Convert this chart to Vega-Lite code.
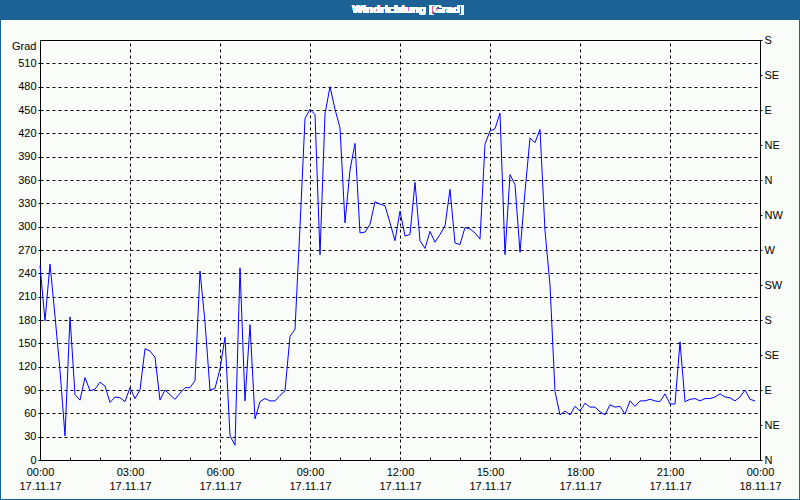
{
  "$schema": "https://vega.github.io/schema/vega-lite/v6.json",
  "autosize": {"type": "none"},
  "padding": {"left": 40, "top": 40, "right": 40, "bottom": 40},
  "width": 720,
  "height": 420,
  "config": {
    "background": "#F9FCF9",
    "view": {"stroke": "black", "strokeWidth": 1},
    "font": "Liberation Sans"
  },
  "data": {"values": [
    {"t": "2017-11-17T00:00", "v": 250}, {"t": "2017-11-17T00:10", "v": 179}, {"t": "2017-11-17T00:20", "v": 252}, {"t": "2017-11-17T00:30", "v": 185}, {"t": "2017-11-17T00:40", "v": 115}, {"t": "2017-11-17T00:50", "v": 31},
    {"t": "2017-11-17T01:00", "v": 184}, {"t": "2017-11-17T01:10", "v": 84}, {"t": "2017-11-17T01:20", "v": 77}, {"t": "2017-11-17T01:30", "v": 106}, {"t": "2017-11-17T01:40", "v": 89}, {"t": "2017-11-17T01:50", "v": 91},
    {"t": "2017-11-17T02:00", "v": 100}, {"t": "2017-11-17T02:10", "v": 95}, {"t": "2017-11-17T02:20", "v": 74}, {"t": "2017-11-17T02:30", "v": 81}, {"t": "2017-11-17T02:40", "v": 80}, {"t": "2017-11-17T02:50", "v": 75},
    {"t": "2017-11-17T03:00", "v": 93}, {"t": "2017-11-17T03:10", "v": 79}, {"t": "2017-11-17T03:20", "v": 90}, {"t": "2017-11-17T03:30", "v": 143}, {"t": "2017-11-17T03:40", "v": 140}, {"t": "2017-11-17T03:50", "v": 132},
    {"t": "2017-11-17T04:00", "v": 77}, {"t": "2017-11-17T04:10", "v": 90}, {"t": "2017-11-17T04:20", "v": 84}, {"t": "2017-11-17T04:30", "v": 78}, {"t": "2017-11-17T04:40", "v": 86}, {"t": "2017-11-17T04:50", "v": 93},
    {"t": "2017-11-17T05:00", "v": 93}, {"t": "2017-11-17T05:10", "v": 102}, {"t": "2017-11-17T05:20", "v": 243}, {"t": "2017-11-17T05:30", "v": 177}, {"t": "2017-11-17T05:40", "v": 90}, {"t": "2017-11-17T05:50", "v": 92},
    {"t": "2017-11-17T06:00", "v": 117}, {"t": "2017-11-17T06:10", "v": 158}, {"t": "2017-11-17T06:20", "v": 31}, {"t": "2017-11-17T06:30", "v": 19}, {"t": "2017-11-17T06:40", "v": 247}, {"t": "2017-11-17T06:50", "v": 76},
    {"t": "2017-11-17T07:00", "v": 174}, {"t": "2017-11-17T07:10", "v": 53}, {"t": "2017-11-17T07:20", "v": 75}, {"t": "2017-11-17T07:30", "v": 79}, {"t": "2017-11-17T07:40", "v": 76}, {"t": "2017-11-17T07:50", "v": 76},
    {"t": "2017-11-17T08:00", "v": 83}, {"t": "2017-11-17T08:10", "v": 89}, {"t": "2017-11-17T08:20", "v": 159}, {"t": "2017-11-17T08:30", "v": 168}, {"t": "2017-11-17T08:40", "v": 300}, {"t": "2017-11-17T08:50", "v": 439},
    {"t": "2017-11-17T09:00", "v": 451}, {"t": "2017-11-17T09:10", "v": 444}, {"t": "2017-11-17T09:20", "v": 264}, {"t": "2017-11-17T09:30", "v": 445}, {"t": "2017-11-17T09:40", "v": 480}, {"t": "2017-11-17T09:50", "v": 451},
    {"t": "2017-11-17T10:00", "v": 427}, {"t": "2017-11-17T10:10", "v": 305}, {"t": "2017-11-17T10:20", "v": 373}, {"t": "2017-11-17T10:30", "v": 407}, {"t": "2017-11-17T10:40", "v": 292}, {"t": "2017-11-17T10:50", "v": 293},
    {"t": "2017-11-17T11:00", "v": 303}, {"t": "2017-11-17T11:10", "v": 332}, {"t": "2017-11-17T11:20", "v": 329}, {"t": "2017-11-17T11:30", "v": 327}, {"t": "2017-11-17T11:40", "v": 305}, {"t": "2017-11-17T11:50", "v": 282},
    {"t": "2017-11-17T12:00", "v": 320}, {"t": "2017-11-17T12:10", "v": 288}, {"t": "2017-11-17T12:20", "v": 290}, {"t": "2017-11-17T12:30", "v": 357}, {"t": "2017-11-17T12:40", "v": 282}, {"t": "2017-11-17T12:50", "v": 272},
    {"t": "2017-11-17T13:00", "v": 294}, {"t": "2017-11-17T13:10", "v": 280}, {"t": "2017-11-17T13:20", "v": 290}, {"t": "2017-11-17T13:30", "v": 301}, {"t": "2017-11-17T13:40", "v": 348}, {"t": "2017-11-17T13:50", "v": 279},
    {"t": "2017-11-17T14:00", "v": 277}, {"t": "2017-11-17T14:10", "v": 299}, {"t": "2017-11-17T14:20", "v": 297}, {"t": "2017-11-17T14:30", "v": 292}, {"t": "2017-11-17T14:40", "v": 284}, {"t": "2017-11-17T14:50", "v": 406},
    {"t": "2017-11-17T15:00", "v": 423}, {"t": "2017-11-17T15:10", "v": 426}, {"t": "2017-11-17T15:20", "v": 446}, {"t": "2017-11-17T15:30", "v": 264}, {"t": "2017-11-17T15:40", "v": 367}, {"t": "2017-11-17T15:50", "v": 354},
    {"t": "2017-11-17T16:00", "v": 267}, {"t": "2017-11-17T16:10", "v": 345}, {"t": "2017-11-17T16:20", "v": 414}, {"t": "2017-11-17T16:30", "v": 408}, {"t": "2017-11-17T16:40", "v": 425}, {"t": "2017-11-17T16:50", "v": 295},
    {"t": "2017-11-17T17:00", "v": 225}, {"t": "2017-11-17T17:10", "v": 88}, {"t": "2017-11-17T17:20", "v": 58}, {"t": "2017-11-17T17:30", "v": 63}, {"t": "2017-11-17T17:40", "v": 58}, {"t": "2017-11-17T17:50", "v": 69},
    {"t": "2017-11-17T18:00", "v": 63}, {"t": "2017-11-17T18:10", "v": 73}, {"t": "2017-11-17T18:20", "v": 68}, {"t": "2017-11-17T18:30", "v": 68}, {"t": "2017-11-17T18:40", "v": 62}, {"t": "2017-11-17T18:50", "v": 58},
    {"t": "2017-11-17T19:00", "v": 71}, {"t": "2017-11-17T19:10", "v": 68}, {"t": "2017-11-17T19:20", "v": 69}, {"t": "2017-11-17T19:30", "v": 59}, {"t": "2017-11-17T19:40", "v": 76}, {"t": "2017-11-17T19:50", "v": 69},
    {"t": "2017-11-17T20:00", "v": 76}, {"t": "2017-11-17T20:10", "v": 76}, {"t": "2017-11-17T20:20", "v": 78}, {"t": "2017-11-17T20:30", "v": 76}, {"t": "2017-11-17T20:40", "v": 75}, {"t": "2017-11-17T20:50", "v": 85},
    {"t": "2017-11-17T21:00", "v": 72}, {"t": "2017-11-17T21:10", "v": 72}, {"t": "2017-11-17T21:20", "v": 152}, {"t": "2017-11-17T21:30", "v": 75}, {"t": "2017-11-17T21:40", "v": 78}, {"t": "2017-11-17T21:50", "v": 79},
    {"t": "2017-11-17T22:00", "v": 76}, {"t": "2017-11-17T22:10", "v": 79}, {"t": "2017-11-17T22:20", "v": 79}, {"t": "2017-11-17T22:30", "v": 81}, {"t": "2017-11-17T22:40", "v": 85}, {"t": "2017-11-17T22:50", "v": 81},
    {"t": "2017-11-17T23:00", "v": 80}, {"t": "2017-11-17T23:10", "v": 76}, {"t": "2017-11-17T23:20", "v": 81}, {"t": "2017-11-17T23:30", "v": 90}, {"t": "2017-11-17T23:40", "v": 78}, {"t": "2017-11-17T23:50", "v": 76}
  ]},
  "layer": [
    {
      "mark": {"type": "line", "color": "#0000FF", "strokeWidth": 1},
      "encoding": {
        "x": {
          "field": "t",
          "type": "temporal",
          "scale": {"domain": [{"year": 2017, "month": 11, "date": 17}, {"year": 2017, "month": 11, "date": 18}], "nice": false},
          "axis": {
            "orient": "bottom",
            "title": null,
            "tickCount": 24,
            "labelExpr": "hours(datum.value) % 3 == 0 ? [timeFormat(datum.value, '%H:%M'), timeFormat(datum.value, '%d.%m.%y')] : ''",
            "labelOverlap": false,
            "labelFlush": false,
            "labelBound": false,
            "labelFont": "Liberation Sans",
            "labelFontSize": 11,
            "labelColor": "black",
            "labelLineHeight": 14,
            "labelPadding": 9,
            "domain": false,
            "ticks": true,
            "tickSize": -3,
            "tickColor": "black",
            "grid": false
          }
        },
        "y": {
          "field": "v",
          "type": "quantitative",
          "scale": {"domain": [0, 540], "nice": false},
          "axis": {
            "orient": "left",
            "values": [0, 30, 60, 90, 120, 150, 180, 210, 240, 270, 300, 330, 360, 390, 420, 450, 480, 510],
            "title": "Grad",
            "titleAngle": 0,
            "titleAlign": "right",
            "titleBaseline": "middle",
            "titleX": -4,
            "titleY": 6,
            "titleFont": "Liberation Sans",
            "titleFontSize": 11,
            "titleFontWeight": "normal",
            "titleColor": "black",
            "labelFont": "Liberation Sans",
            "labelFontSize": 11,
            "labelColor": "black",
            "labelPadding": 2,
            "tickSize": 2,
            "tickColor": "black",
            "domain": false,
            "grid": true,
            "gridColor": "black",
            "gridDash": [3, 3],
            "gridOpacity": 1
          }
        }
      }
    },
    {
      "mark": {"type": "line", "opacity": 0},
      "encoding": {
        "x": {
          "field": "t",
          "type": "temporal",
          "axis": {
            "orient": "top",
            "title": null,
            "values": [
              {"year": 2017, "month": 11, "date": 17, "hours": 3},
              {"year": 2017, "month": 11, "date": 17, "hours": 6},
              {"year": 2017, "month": 11, "date": 17, "hours": 9},
              {"year": 2017, "month": 11, "date": 17, "hours": 12},
              {"year": 2017, "month": 11, "date": 17, "hours": 15},
              {"year": 2017, "month": 11, "date": 17, "hours": 18},
              {"year": 2017, "month": 11, "date": 17, "hours": 21}
            ],
            "labels": false,
            "ticks": false,
            "domain": false,
            "grid": true,
            "gridColor": "black",
            "gridDash": [3, 3],
            "gridOpacity": 1
          }
        },
        "y": {
          "field": "v",
          "type": "quantitative",
          "axis": {
            "orient": "right",
            "values": [0, 45, 90, 135, 180, 225, 270, 315, 360, 405, 450, 495, 540],
            "labelExpr": "['N','NE','E','SE','S','SW','W','NW'][(datum.value / 45) % 8]",
            "title": null,
            "labelFont": "Liberation Sans",
            "labelFontSize": 11,
            "labelColor": "black",
            "labelPadding": 2,
            "labelFlush": false,
            "tickSize": 2,
            "tickColor": "black",
            "domain": false,
            "grid": false
          }
        }
      }
    },
    {
      "mark": {"type": "rect", "color": "#1D6295", "clip": false},
      "encoding": {
        "x": {"datum": {"year": 2017, "month": 11, "date": 16, "hours": 22, "minutes": 40}, "type": "temporal", "axis": null},
        "x2": {"datum": {"year": 2017, "month": 11, "date": 18, "hours": 1, "minutes": 20}},
        "y": {"datum": 591.43, "type": "quantitative", "axis": null},
        "y2": {"datum": 565.71}
      }
    },
    {
      "mark": {"type": "rect", "filled": false, "stroke": "#1D6295", "strokeWidth": 1, "clip": false},
      "encoding": {
        "x": {"datum": {"year": 2017, "month": 11, "date": 16, "hours": 22, "minutes": 41}, "type": "temporal", "axis": null},
        "x2": {"datum": {"year": 2017, "month": 11, "date": 18, "hours": 1, "minutes": 19}},
        "y": {"datum": 590.79, "type": "quantitative", "axis": null},
        "y2": {"datum": -50.79}
      }
    },
    {
      "mark": {"type": "text", "fill": "white", "stroke": null, "font": "Liberation Sans", "fontSize": 11.5, "fontWeight": "bold", "align": "center", "baseline": "middle", "clip": false},
      "encoding": {
        "x": {"datum": {"year": 2017, "month": 11, "date": 17, "hours": 12, "minutes": 16}, "type": "temporal", "axis": null},
        "y": {"datum": 578.57, "type": "quantitative", "axis": null},
        "text": {"value": "Windrichtung [Grad]"}
      }
    }
  ],
  "resolve": {"axis": {"x": "independent", "y": "independent"}}
}
